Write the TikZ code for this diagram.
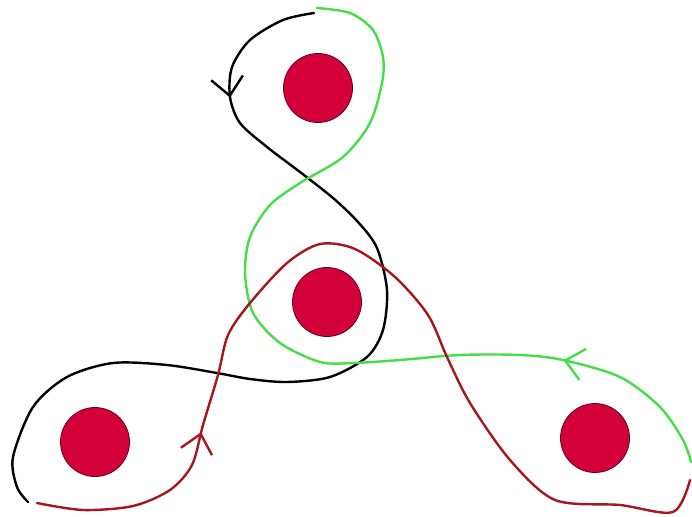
\documentclass[tikz,border=0pt]{standalone}
\usepackage{xcolor}
\usepackage{tikz}
\usetikzlibrary{arrows.meta,decorations.markings}

\definecolor{dotred}{RGB}{212,0,58}
\definecolor{dotrim}{RGB}{95,0,25}
\definecolor{loopgreen}{RGB}{70,222,70}
\definecolor{loopred}{RGB}{165,22,30}

\begin{document}
\begin{tikzpicture}[x=1pt,y=-1pt,
  dot/.style={circle,draw=dotrim,line width=0.8pt,fill=dotred,minimum size=69pt,inner sep=0pt},
  strand/.style={line width=2.4pt,line cap=round,line join=round},
  barb/.style={postaction={decorate},decoration={markings,
    mark=at position #1 with {\arrow{Straight Barb[length=18pt,width=32pt]}}}}]
  \useasboundingbox (0,0) rectangle (692,516);
  \node[dot] (top) at (318,88) {};
  \node[dot] (mid) at (327,302) {};
  \node[dot] (left) at (95,442) {};
  \node[dot] (right) at (595,438) {};
  \draw[strand,black,barb=134pt] plot[smooth] coordinates {(314,13) (283,20) (250,40) (232,67) (230,97)
    (240,123) (267,147) (300,172) (333,198) (358,222) (377,248) (387,290) (383,330) (367,357)
    (330,377) (287,382) (250,379) (217,373) (167,365) (113,363) (67,377) (33,407) (13,457)
    (17,487) (28,502)};
  \draw[strand,loopgreen,barb=173pt] plot[smooth] coordinates {(691,462) (683,440) (660,407)
    (620,377) (563,360) (520,355) (460,355) (400,360) (353,363) (320,362) (280,343) (253,313)
    (245,273) (250,237) (270,205) (300,183) (343,157) (370,123) (382,83) (383,57) (373,30)
    (350,13) (317,8)};
  \draw[strand,loopred,barb=205pt] plot[smooth] coordinates {(37,503) (83,510) (133,506)
    (170,490) (192,465) (203,425) (218,375) (228,335) (250,303) (287,263) (320,244) (355,249)
    (395,277) (428,315) (447,357) (470,403) (510,460) (555,500) (620,505) (673,512) (690,480)};
\end{tikzpicture}
\end{document}
